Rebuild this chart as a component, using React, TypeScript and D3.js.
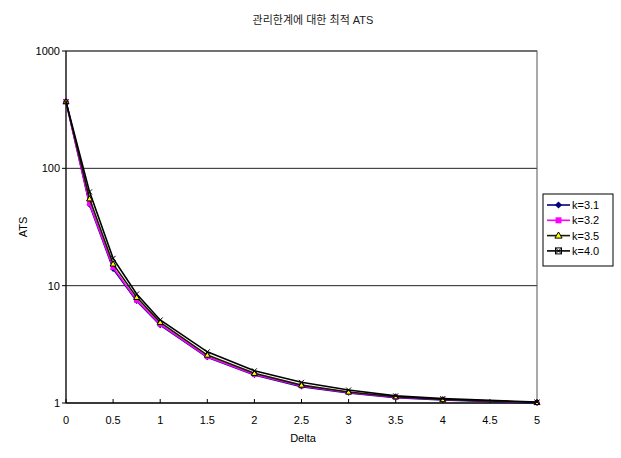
import React from "react";
import * as d3 from "d3";

// Delta values (x) and ATS per control limit k
const deltas = [0, 0.25, 0.5, 0.75, 1, 1.5, 2, 2.5, 3, 3.5, 4, 5];
const k31 = [370, 49, 13.9, 7.4, 4.6, 2.45, 1.73, 1.38, 1.22, 1.11, 1.06, 1.0];
const k32 = [370, 50, 14.3, 7.5, 4.68, 2.48, 1.75, 1.4, 1.23, 1.12, 1.07, 1.01];
const k35 = [370, 55, 15.3, 7.95, 4.87, 2.56, 1.79, 1.42, 1.24, 1.13, 1.07, 1.01];
const k40 = [370, 63, 17.1, 8.5, 5.1, 2.73, 1.88, 1.5, 1.29, 1.15, 1.09, 1.02];
const seriesNames = ["k=3.1", "k=3.2", "k=3.5", "k=4.0"];
const xTicks = [0, 0.5, 1, 1.5, 2, 2.5, 3, 3.5, 4, 4.5, 5];
const yTicks = [1, 10, 100, 1000];

const font = "'Liberation Sans', Arial, 'Noto Sans CJK KR', sans-serif";

const styles = [
  { color: "#000080", marker: "diamond" },
  { color: "#ff00ff", marker: "square" },
  { color: "#1a1a00", marker: "triangle" },
  { color: "#000000", marker: "xbox" },
];

const Marker = ({ type, x, y, color, s = 1 }: { type: string; x: number; y: number; color: string; s?: number }) => {
  if (type === "diamond") {
    const r = 3 * s;
    return <path d={`M${x},${y - r}L${x + r},${y}L${x},${y + r}L${x - r},${y}Z`} fill={color} />;
  }
  if (type === "square") {
    const r = 2.5 * s;
    return <rect x={x - r} y={y - r} width={2 * r} height={2 * r} fill={color} />;
  }
  if (type === "triangle") {
    const r = 3 * s;
    return (
      <path d={`M${x},${y - r}L${x + r},${y + r * 0.7}L${x - r},${y + r * 0.7}Z`} fill="#ffff00" stroke="#000" strokeWidth={1} />
    );
  }
  const r = 2.5 * s;
  return (
    <g stroke="#000" strokeWidth={1} fill="none">
      {s > 1 && <rect x={x - r} y={y - r} width={2 * r} height={2 * r} />}
      <path d={`M${x - r},${y - r}L${x + r},${y + r}M${x + r},${y - r}L${x - r},${y + r}`} />
    </g>
  );
};

export default function App() {
  const left = 66;
  const right = 537;
  const top = 51;
  const bottom = 403;

  const x = d3.scaleLinear().domain([0, 5]).range([left, right]);
  const y = d3.scaleLog().domain([1, 1000]).range([bottom, top]);

  const all = [k31, k32, k35, k40];
  const line = d3
    .line<number>()
    .x((_, i) => x(deltas[i]))
    .y((d) => y(d));

  return (
    <svg width={621} height={458} style={{ position: "absolute", left: 0, top: 0, background: "#fff" }} fontFamily={font}>
      <text x={313} y={24} textAnchor="middle" fontSize={11} fill="#222">
        관리한계에 대한 최적 ATS
      </text>

      {/* gridlines */}
      {yTicks.map((t) => (
        <line key={t} x1={left} x2={right} y1={y(t)} y2={y(t)} stroke="#222" strokeWidth={1} />
      ))}
      <rect x={left} y={top} width={right - left} height={bottom - top} fill="none" stroke="#555" strokeWidth={1} />
      <line x1={left} x2={left} y1={top} y2={bottom} stroke="#000" />
      <line x1={left} x2={right} y1={bottom} y2={bottom} stroke="#000" />

      {/* y axis */}
      {yTicks.map((t) => (
        <g key={t}>
          <line x1={left - 4} x2={left} y1={y(t)} y2={y(t)} stroke="#000" />
          <text x={60} y={y(t) + 4} textAnchor="end" fontSize={11}>
            {t}
          </text>
        </g>
      ))}
      {/* x axis */}
      {xTicks.map((t) => (
        <g key={t}>
          <line x1={x(t)} x2={x(t)} y1={bottom - 4} y2={bottom} stroke="#000" />
          <text x={x(t)} y={424} textAnchor="middle" fontSize={11}>
            {t}
          </text>
        </g>
      ))}
      <text x={303} y={442} textAnchor="middle" fontSize={11}>
        Delta
      </text>
      <text transform={`translate(27,${(top + bottom) / 2}) rotate(-90)`} textAnchor="middle" fontSize={11}>
        ATS
      </text>

      {/* series */}
      {all.map((s, si) => (
        <g key={si}>
          <path d={line(s) || ""} fill="none" stroke={styles[si].color} strokeWidth={1.6} />
          {s.map((v, i) => (
            <Marker key={i} type={styles[si].marker} x={x(deltas[i])} y={y(v)} color={styles[si].color} />
          ))}
        </g>
      ))}

      {/* legend */}
      <rect x={543} y={194} width={70} height={72} fill="#fff" stroke="#000" />
      {seriesNames.map((n, i) => {
        const ly = 205 + i * 15.3;
        return (
          <g key={n}>
            <line x1={547} x2={570} y1={ly} y2={ly} stroke={styles[i].color} strokeWidth={1.6} />
            <Marker type={styles[i].marker} x={558.5} y={ly} color={styles[i].color} s={1.2} />
            <text x={572} y={ly + 4} fontSize={11}>
              {n}
            </text>
          </g>
        );
      })}
    </svg>
  );
}
